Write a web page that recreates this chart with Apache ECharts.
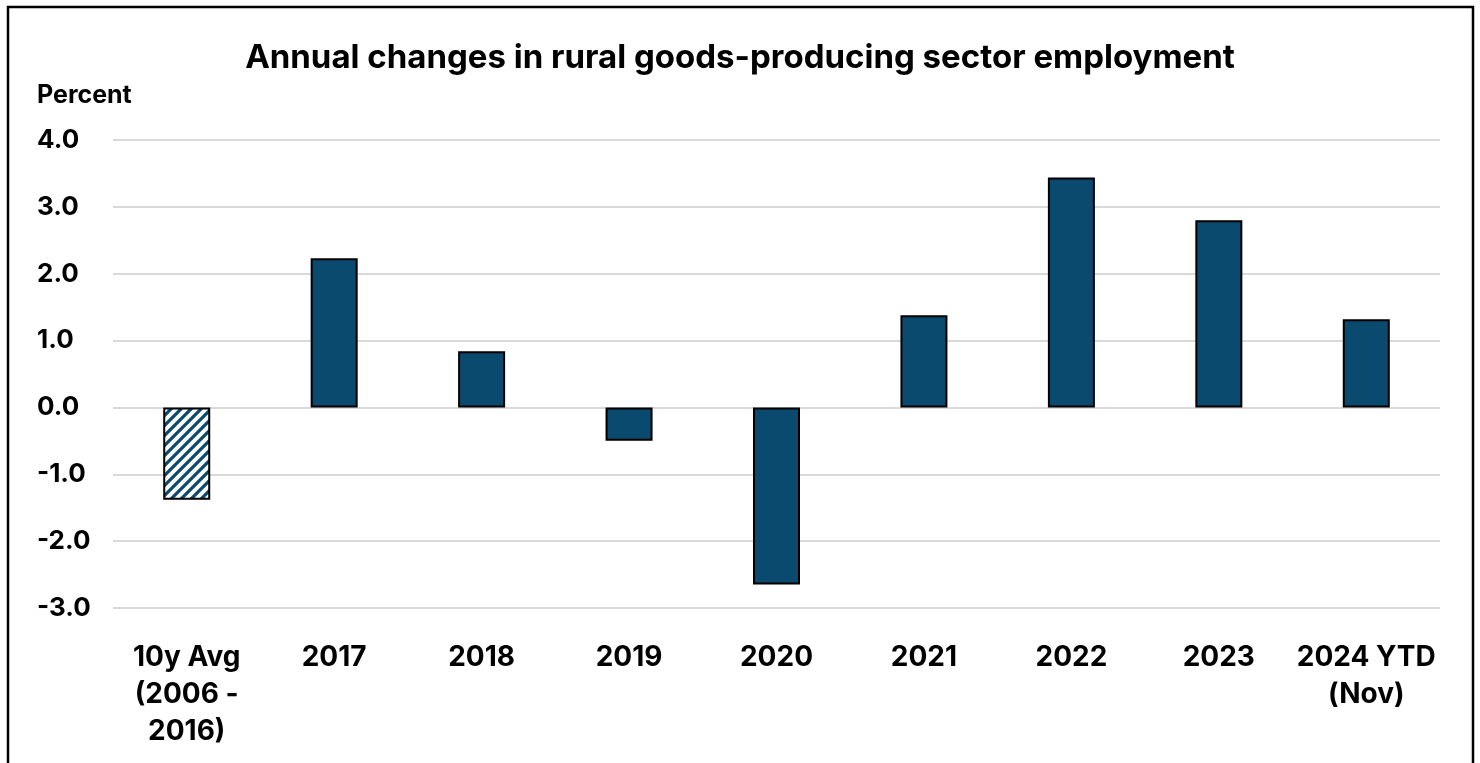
<!DOCTYPE html>
<html>
<head>
<meta charset="utf-8">
<script src="https://cdn.jsdelivr.net/npm/echarts@6/dist/echarts.min.js"></script>
<style>
html,body{margin:0;padding:0;background:#fff;}
#chart{width:1480px;height:763px;}
</style>
</head>
<body>
<div id="chart"></div>
<script>
const categories = ['10y Avg\n(2006 -\n2016)', '2017', '2018', '2019', '2020', '2021', '2022', '2023', '2024 YTD\n(Nov)'];
const values = [-1.38, 2.23, 0.84, -0.50, -2.65, 1.38, 3.44, 2.80, 1.32];
const yTicks = { min: -3, max: 4, interval: 1 };

const FONT = 'Inter';
const BLUE = '#0B4A6F';

// hatch pattern for the 10-year average bar
const pc = document.createElement('canvas');
pc.width = 10; pc.height = 10;
const g = pc.getContext('2d');
g.fillStyle = '#fff'; g.fillRect(0, 0, 10, 10);
g.strokeStyle = BLUE; g.lineWidth = 3.2;
g.beginPath();
g.moveTo(-2, 12); g.lineTo(12, -2);
g.moveTo(-7, 7); g.lineTo(7, -7);
g.moveTo(3, 17); g.lineTo(17, 3);
g.stroke();

const seriesData = values.map((v, i) => i === 0
  ? { value: v, itemStyle: { color: { image: pc, repeat: 'repeat' } } }
  : v);

const chart = echarts.init(document.getElementById('chart'), null, { renderer: 'canvas' });
chart.setOption({
  animation: false,
  backgroundColor: '#fff',
  title: {
    text: 'Annual changes in rural goods-producing sector employment',
    left: 'center', top: 37,
    textStyle: { fontFamily: FONT, fontWeight: 'bold', fontSize: 33, color: '#000' }
  },
  graphic: [
    { type: 'rect', shape: { x: 8, y: 7, width: 1465, height: 820 },
      style: { fill: null, stroke: '#000', lineWidth: 2.5 }, z: 100 },
    { type: 'text', left: 37, top: 83,
      style: { text: 'Percent', fontFamily: FONT, fontWeight: 'bold', fontSize: 25, fill: '#000' } }
  ],
  grid: { left: 113, right: 40, top: 140, bottom: 155, containLabel: false },
  xAxis: {
    type: 'category',
    data: categories,
    axisLine: { show: false },
    axisTick: { show: false },
    axisLabel: {
      interval: 0, margin: 31,
      fontFamily: FONT, fontWeight: 'bold', fontSize: 28, color: '#000', lineHeight: 37
    }
  },
  yAxis: {
    type: 'value',
    min: yTicks.min, max: yTicks.max, interval: yTicks.interval,
    axisLine: { show: false },
    axisTick: { show: false },
    splitLine: { lineStyle: { color: '#d9d9d9', width: 2 } },
    axisLabel: {
      align: 'left', margin: 76,
      fontFamily: FONT, fontWeight: 'bold', fontSize: 26, color: '#000',
      formatter: v => v.toFixed(1)
    }
  },
  series: [{
    type: 'bar',
    data: seriesData,
    barWidth: 47,
    itemStyle: { color: BLUE, borderColor: '#000', borderWidth: 2 }
  }]
});
</script>
</body>
</html>
